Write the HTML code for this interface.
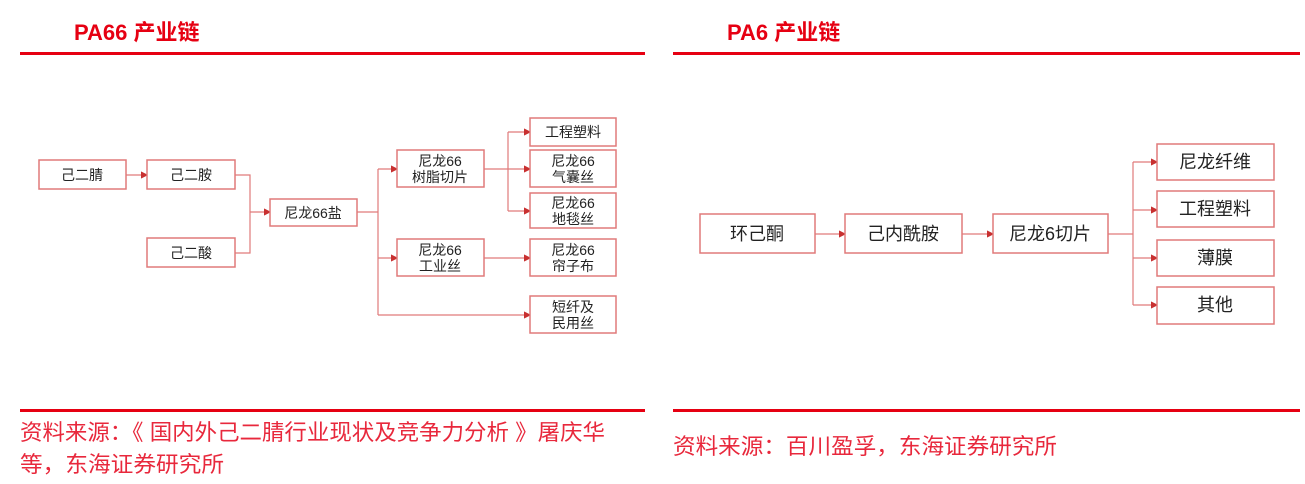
<!DOCTYPE html>
<html><head><meta charset="utf-8"><style>
body{margin:0;width:1305px;height:484px;background:#fff;overflow:hidden}
svg{display:block}
text{font-family:"Liberation Sans","Noto Sans CJK SC",sans-serif}
.b{fill:#fff;stroke:#e07a7a;stroke-width:1.5}
.l{stroke:#e07a7a;stroke-width:1.2;fill:none}
.t{font-size:14px;fill:#222;text-anchor:middle}
.T{font-size:18px;fill:#222;text-anchor:middle}
.s{font-size:22px;fill:#e8283c}
</style></head><body>
<svg width="1305" height="484" viewBox="0 0 1305 484">
<defs><marker id="a" markerWidth="6" markerHeight="6" refX="5" refY="3" orient="auto"><path d="M0,0L6,3L0,6z" fill="#c83030"/></marker></defs>
<text x="74" y="40" font-size="22" font-weight="bold" fill="#e60012">PA66 产业链</text>
<text x="727" y="40" font-size="22" font-weight="bold" fill="#e60012">PA6 产业链</text>
<rect x="20" y="52" width="625" height="3" fill="#e60012"/>
<rect x="673" y="52" width="627" height="3" fill="#e60012"/>
<rect x="20" y="409" width="625" height="3" fill="#e60012"/>
<rect x="673" y="409" width="627" height="3" fill="#e60012"/>
<text class="s" x="20" y="440" textLength="585" lengthAdjust="spacingAndGlyphs">资料来源：《 国内外己二腈行业现状及竞争力分析 》屠庆华</text>
<text class="s" x="20" y="472" textLength="204" lengthAdjust="spacingAndGlyphs">等，东海证券研究所</text>
<text class="s" x="673" y="454" textLength="384" lengthAdjust="spacingAndGlyphs">资料来源：百川盈孚，东海证券研究所</text>
<!-- left connectors -->
<path class="l" d="M126,175H147" marker-end="url(#a)"/>
<path class="l" d="M235,175H250V253H235M250,212H270" marker-end="url(#a)"/>
<path class="l" d="M357,212H378M378,169V315"/>
<path class="l" d="M378,169H397" marker-end="url(#a)"/>
<path class="l" d="M378,258H397" marker-end="url(#a)"/>
<path class="l" d="M378,315H530" marker-end="url(#a)"/>
<path class="l" d="M484,169H530" marker-end="url(#a)"/>
<path class="l" d="M508,132V211"/>
<path class="l" d="M508,132H530" marker-end="url(#a)"/>
<path class="l" d="M508,211H530" marker-end="url(#a)"/>
<path class="l" d="M484,258H530" marker-end="url(#a)"/>
<!-- left boxes -->
<rect class="b" x="39" y="160" width="87" height="29"/><text class="t" x="82" y="180">己二腈</text>
<rect class="b" x="147" y="160" width="88" height="29"/><text class="t" x="191" y="180">己二胺</text>
<rect class="b" x="147" y="238" width="88" height="29"/><text class="t" x="191" y="258">己二酸</text>
<rect class="b" x="270" y="199" width="87" height="27"/><text class="t" x="313" y="218">尼龙66盐</text>
<rect class="b" x="397" y="150" width="87" height="37"/><text class="t" x="440" y="166">尼龙66</text><text class="t" x="440" y="182">树脂切片</text>
<rect class="b" x="397" y="239" width="87" height="37"/><text class="t" x="440" y="255">尼龙66</text><text class="t" x="440" y="271">工业丝</text>
<rect class="b" x="530" y="118" width="86" height="28"/><text class="t" x="573" y="137">工程塑料</text>
<rect class="b" x="530" y="150" width="86" height="37"/><text class="t" x="573" y="166">尼龙66</text><text class="t" x="573" y="182">气囊丝</text>
<rect class="b" x="530" y="193" width="86" height="35"/><text class="t" x="573" y="208">尼龙66</text><text class="t" x="573" y="224">地毯丝</text>
<rect class="b" x="530" y="239" width="86" height="37"/><text class="t" x="573" y="255">尼龙66</text><text class="t" x="573" y="271">帘子布</text>
<rect class="b" x="530" y="296" width="86" height="37"/><text class="t" x="573" y="312">短纤及</text><text class="t" x="573" y="328">民用丝</text>
<!-- right connectors -->
<path class="l" d="M815,234H845" marker-end="url(#a)"/>
<path class="l" d="M962,234H993" marker-end="url(#a)"/>
<path class="l" d="M1108,234H1133M1133,162V305"/>
<path class="l" d="M1133,162H1157" marker-end="url(#a)"/>
<path class="l" d="M1133,210H1157" marker-end="url(#a)"/>
<path class="l" d="M1133,258H1157" marker-end="url(#a)"/>
<path class="l" d="M1133,305H1157" marker-end="url(#a)"/>
<rect class="b" x="700" y="214" width="115" height="39"/><text class="T" x="757" y="240">环己酮</text>
<rect class="b" x="845" y="214" width="117" height="39"/><text class="T" x="903" y="240">己内酰胺</text>
<rect class="b" x="993" y="214" width="115" height="39"/><text class="T" x="1050" y="240">尼龙6切片</text>
<rect class="b" x="1157" y="144" width="117" height="36"/><text class="T" x="1215" y="168">尼龙纤维</text>
<rect class="b" x="1157" y="191" width="117" height="36"/><text class="T" x="1215" y="215">工程塑料</text>
<rect class="b" x="1157" y="240" width="117" height="36"/><text class="T" x="1215" y="264">薄膜</text>
<rect class="b" x="1157" y="287" width="117" height="37"/><text class="T" x="1215" y="311">其他</text>
</svg>
</body></html>
